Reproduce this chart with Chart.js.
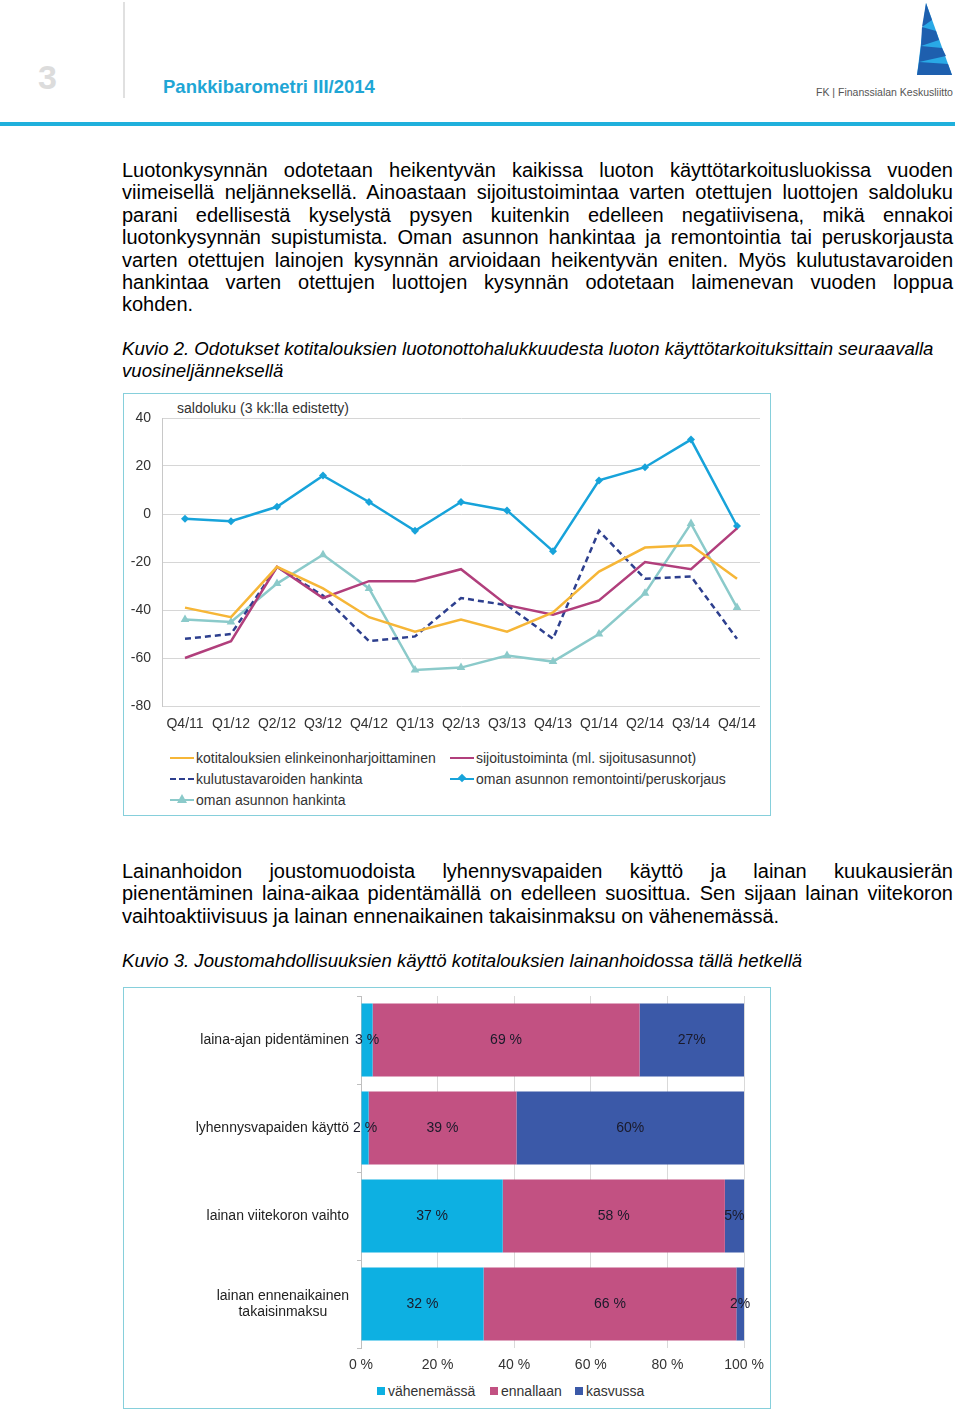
<!DOCTYPE html>
<html>
<head>
<meta charset="utf-8">
<script src="https://cdn.jsdelivr.net/npm/chart.js@4.4.1/dist/chart.umd.min.js"></script>
<style>
  body { margin: 0; background: #fff; font-family: 'Liberation Sans', Arial, sans-serif; color: #000; }
  .abs { position: absolute; }
  .para { position: absolute; left: 122px; width: 831px; font-size: 20px; line-height: 22.4px; }
  .para span { display: block; white-space: nowrap; }
  .para .j { text-align: justify; text-align-last: justify; }
  .cap { font-style: italic; font-size: 18.6px; }
  .box { position: absolute; border: 1.5px solid #86cfdb; box-sizing: border-box; }
  .lg { position: absolute; font-size: 14px; color: #333; white-space: nowrap; }
  .lg i { display: inline-block; vertical-align: middle; position: relative; }
</style>
</head>
<body>
<!-- header -->
<div class="abs" style="left:38px;top:58px;font-size:34px;font-weight:bold;color:#dcdcdc;">3</div>
<div class="abs" style="left:123px;top:2px;width:2px;height:96px;background:#e0e0e0;"></div>
<div class="abs" style="left:163px;top:76px;font-size:18.5px;font-weight:bold;color:#1fa6d5;">Pankkibarometri III/2014</div>
<svg class="abs" style="left:895px;top:0" width="65" height="82">
  <polygon points="31,3 57,75 22,75" fill="#29a9e6"/>
  <polygon points="31,3 37,20 27,27" fill="#1e5fae"/>
  <polygon points="27,27 41,31 44,40 26,46" fill="#1e5fae"/>
  <polygon points="26,46 47,48 51,56 24,62" fill="#1e5fae"/>
  <polygon points="24,62 53,64 57,75 22,75" fill="#1e5fae"/>
</svg>
<div class="abs" style="left:816px;top:86px;font-size:10.5px;color:#555;font-family:'Liberation Sans Narrow','Liberation Sans',sans-serif;">FK | Finanssialan Keskusliitto</div>
<div class="abs" style="left:0;top:122px;width:955px;height:4px;background:#1fb0dc;"></div>

<!-- text -->
<div class="para" style="top:159px">
  <span class="j">Luotonkysynnän odotetaan heikentyvän kaikissa luoton käyttötarkoitusluokissa vuoden</span>
  <span class="j">viimeisellä neljänneksellä. Ainoastaan sijoitustoimintaa varten otettujen luottojen saldoluku</span>
  <span class="j">parani edellisestä kyselystä pysyen kuitenkin edelleen negatiivisena, mikä ennakoi</span>
  <span class="j">luotonkysynnän supistumista. Oman asunnon hankintaa ja remontointia tai peruskorjausta</span>
  <span class="j">varten otettujen lainojen kysynnän arvioidaan heikentyvän eniten. Myös kulutustavaroiden</span>
  <span class="j">hankintaa varten otettujen luottojen kysynnän odotetaan laimenevan vuoden loppua</span>
  <span>kohden.</span>
</div>
<div class="para cap" style="top:338px">
  <span>Kuvio 2. Odotukset kotitalouksien luotonottohalukkuudesta luoton käyttötarkoituksittain seuraavalla</span>
  <span>vuosineljänneksellä</span>
</div>

<div class="box" style="left:123px;top:393px;width:648px;height:423px;"></div>
<div class="abs" style="left:177px;top:400px;font-size:14px;color:#333;">saldoluku (3 kk:lla edistetty)</div>
<canvas id="c1" class="abs" style="left:123px;top:393px" width="647" height="345"></canvas>
<div id="leg1"></div>

<div class="para" style="top:860px">
  <span class="j">Lainanhoidon joustomuodoista lyhennysvapaiden käyttö ja lainan kuukausierän</span>
  <span class="j">pienentäminen laina-aikaa pidentämällä on edelleen suosittua. Sen sijaan lainan viitekoron</span>
  <span>vaihtoaktiivisuus ja lainan ennenaikainen takaisinmaksu on vähenemässä.</span>
</div>
<div class="para cap" style="top:950px">
  <span>Kuvio 3. Joustomahdollisuuksien käyttö kotitalouksien lainanhoidossa tällä hetkellä</span>
</div>

<div class="box" style="left:123px;top:987px;width:648px;height:422px;"></div>
<canvas id="c2" class="abs" style="left:123px;top:987px" width="647" height="391"></canvas>
<div id="leg2"></div>

<script>
// ---- Kuvio 2 data
const quarters = ['Q4/11','Q1/12','Q2/12','Q3/12','Q4/12','Q1/13','Q2/13','Q3/13','Q4/13','Q1/14','Q2/14','Q3/14','Q4/14']
const elinkeino = [-39, -43, -22, -31, -43, -49, -44, -49, -41, -24, -14, -13, -27]
const sijoitus = [-60, -53, -22, -35, -28, -28, -23, -38, -42, -36, -20, -23, -6]
const kulutus = [-52, -50, -22, -34, -53, -51, -35, -38, -52, -7, -27, -26, -52]
const remontointi = [-2, -3, 3, 16, 5, -7, 5, 1.5, -15.5, 14, 19.5, 31, -5]
const hankinta = [-44, -45, -29, -17, -31, -65, -64, -59, -61.5, -50, -33, -4, -39]
const yTicks1 = [40, 20, 0, -20, -40, -60, -80]

// ---- Kuvio 3 data
const joustoLabels = [['laina-ajan pidentäminen'], ['lyhennysvapaiden käyttö'], ['lainan viitekoron vaihto'], ['lainan ennenaikainen', 'takaisinmaksu']]
const vahenemassa = [3, 2, 37, 32]
const ennallaan = [69, 39, 58, 66]
const kasvussa = [27, 60, 5, 2]

Chart.defaults.font.family = "'Liberation Sans', Arial, sans-serif"
Chart.defaults.font.size = 14
Chart.defaults.color = '#404040'
Chart.defaults.animation = false

const lineSets = [
  { label: 'kotitalouksien elinkeinonharjoittaminen', data: elinkeino, borderColor: '#f6b637', pointRadius: 0 },
  { label: 'sijoitustoiminta (ml. sijoitusasunnot)', data: sijoitus, borderColor: '#b13f7c', pointRadius: 0 },
  { label: 'kulutustavaroiden hankinta', data: kulutus, borderColor: '#2d3f8e', borderDash: [6, 4], pointRadius: 0 },
  { label: 'oman asunnon remontointi/peruskorjaus', data: remontointi, borderColor: '#17a3da', pointStyle: 'rectRot', pointRadius: 4, pointBackgroundColor: '#17a3da', pointBorderWidth: 0 },
  { label: 'oman asunnon hankinta', data: hankinta, borderColor: '#8bcaca', pointStyle: 'triangle', pointRadius: 5, pointBackgroundColor: '#8bcaca', pointBorderWidth: 0 }
]
lineSets.forEach(d => { d.borderWidth = 2.5; d.tension = 0; d.fill = false })

new Chart(document.getElementById('c1'), {
  type: 'line',
  data: { labels: quarters, datasets: lineSets },
  options: {
    responsive: false,
    layout: { padding: { left: 0, top: 25, right: 10, bottom: 0 } },
    plugins: { legend: { display: false }, tooltip: { enabled: false } },
    scales: {
      x: {
        offset: true,
        grid: { display: false },
        border: { display: false },
        ticks: { padding: 2, maxRotation: 0, autoSkip: false, color: '#333' },
        afterFit: s => { s.height = 32 }
      },
      y: {
        min: -80, max: 40,
        afterBuildTicks: s => { s.ticks = yTicks1.map(v => ({ value: v })) },
        grid: { color: '#d6d6d6', drawTicks: false },
        border: { color: '#c8c8c8' },
        ticks: { padding: 11, color: '#333' },
        afterFit: s => { s.width = 39 }
      }
    }
  }
})

// legend for Kuvio 2
const leg1Pos = [[170, 758], [450, 758], [170, 779], [450, 779], [170, 800]]
let h1 = ''
lineSets.forEach((d, i) => {
  const [x, y] = leg1Pos[i]
  let mark = `<i style="width:24px;height:0;border-top:2.5px ${d.borderDash ? 'dashed' : 'solid'} ${d.borderColor};margin-right:2px;top:-1px">`
  if (d.pointStyle === 'rectRot') mark += `<b style="position:absolute;left:9px;top:-5.5px;width:6px;height:6px;background:${d.borderColor};transform:rotate(45deg)"></b>`
  if (d.pointStyle === 'triangle') mark += `<b style="position:absolute;left:7px;top:-7px;width:0;height:0;border-left:5px solid transparent;border-right:5px solid transparent;border-bottom:9px solid ${d.borderColor}"></b>`
  mark += '</i>'
  h1 += `<div class="lg" style="left:${x}px;top:${y - 8}px">${mark}${d.label}</div>`
})
document.getElementById('leg1').innerHTML = h1

// ---- Kuvio 3: 100 % stacked bars
const totals = vahenemassa.map((v, i) => v + ennallaan[i] + kasvussa[i])
const pct = arr => arr.map((v, i) => v / totals[i] * 100)
const barSets = [
  { label: 'vähenemässä', raw: vahenemassa, data: pct(vahenemassa), backgroundColor: '#0db0e2', suffix: ' %' },
  { label: 'ennallaan', raw: ennallaan, data: pct(ennallaan), backgroundColor: '#c25182', suffix: ' %' },
  { label: 'kasvussa', raw: kasvussa, data: pct(kasvussa), backgroundColor: '#3b59a8', suffix: '%' }
]
barSets.forEach(d => { d.barPercentage = 0.83; d.categoryPercentage = 1; d.borderWidth = 0 })

const barLabels = {
  id: 'barLabels',
  afterDatasetsDraw(chart) {
    const ctx = chart.ctx
    ctx.save()
    ctx.font = "14px 'Liberation Sans', Arial, sans-serif"
    ctx.fillStyle = '#1a1a2a'
    ctx.textAlign = 'center'
    ctx.textBaseline = 'middle'
    chart.data.datasets.forEach((d, di) => {
      chart.getDatasetMeta(di).data.forEach((el, i) => {
        ctx.fillText(d.raw[i] + d.suffix, (el.x + el.base) / 2, el.y)
      })
    })
    // category labels, right aligned block, lines centred
    const ys = chart.scales.y
    ctx.fillStyle = '#222'
    joustoLabels.forEach((lines, i) => {
      const w = Math.max(...lines.map(t => ctx.measureText(t).width))
      const cx = ys.right - 12 - w / 2
      const y0 = ys.getPixelForTick(i) - (lines.length - 1) * 8
      lines.forEach((t, k) => ctx.fillText(t, cx, y0 + k * 16))
    })
    ctx.restore()
  }
}

new Chart(document.getElementById('c2'), {
  type: 'bar',
  data: { labels: joustoLabels.map(l => l.join(' ')), datasets: barSets },
  options: {
    indexAxis: 'y',
    responsive: false,
    layout: { padding: { left: 0, top: 9, right: 26, bottom: 0 } },
    plugins: { legend: { display: false }, tooltip: { enabled: false } },
    scales: {
      x: {
        stacked: true, min: 0, max: 100,
        grid: { color: '#d9d9d9', drawTicks: false },
        border: { display: false },
        ticks: { stepSize: 20, padding: 9, color: '#333', callback: v => v + ' %' },
        afterFit: s => { s.height = 30; s.paddingLeft = 0; s.paddingRight = 0 }
      },
      y: {
        stacked: true,
        grid: { offset: true, drawOnChartArea: false, drawTicks: true, tickLength: 4, color: '#bfbfbf' },
        border: { color: '#bfbfbf' },
        ticks: { display: false },
        afterFit: s => { s.width = 238 }
      }
    }
  },
  plugins: [barLabels]
})

// legend for Kuvio 3
const leg2Pos = [377, 490, 575]
let h2 = ''
barSets.forEach((d, i) => {
  h2 += `<div class="lg" style="left:${leg2Pos[i]}px;top:1383px"><i style="width:8px;height:8px;background:${d.backgroundColor};margin-right:3px;top:-1px"></i>${d.label}</div>`
})
document.getElementById('leg2').innerHTML = h2
</script>
</body>
</html>
